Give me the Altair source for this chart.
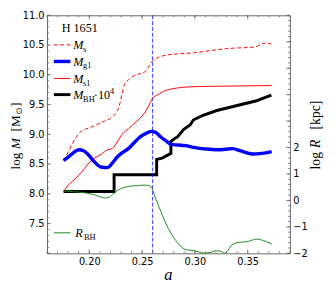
import altair as alt
import pandas as pd

# ---------------- data ----------------
a_ms = [0.1757, 0.1803, 0.1849, 0.1895, 0.1942, 0.2003, 0.2080, 0.2142, 0.2203, 0.2249, 0.2281,
        0.2311, 0.2332, 0.2373, 0.2419, 0.2480, 0.2526, 0.2572, 0.2604, 0.2665, 0.2727, 0.2985,
        0.3299, 0.3576, 0.3631, 0.3659, 0.3724]
m_ms = [8.56, 8.71, 8.87, 9.00, 9.07, 9.11, 9.17, 9.22, 9.27, 9.35, 9.46,
        9.68, 9.83, 9.92, 9.98, 10.02, 10.05, 10.16, 10.24, 10.30, 10.33, 10.37,
        10.44, 10.47, 10.52, 10.53, 10.52]

a_ms1 = [0.1757, 0.1803, 0.1865, 0.1926, 0.1988, 0.2050, 0.2111, 0.2172, 0.2219, 0.2265, 0.2311,
         0.2373, 0.2450, 0.2511, 0.2558, 0.2597, 0.2665, 0.2727, 0.2773, 0.2988, 0.3296, 0.3727]
m_ms1 = [8.04, 8.15, 8.25, 8.36, 8.50, 8.60, 8.66, 8.74, 8.76, 8.87, 9.00,
         9.10, 9.22, 9.33, 9.46, 9.60, 9.68, 9.74, 9.76, 9.80, 9.81, 9.82]

a_mg1 = [0.1757, 0.1803, 0.1849, 0.1900, 0.1950, 0.2000, 0.2052, 0.2110, 0.2172, 0.2220, 0.2265,
         0.2320, 0.2370, 0.2420, 0.2477, 0.2530, 0.2588, 0.2630, 0.2680, 0.2727, 0.2773, 0.2840,
         0.2911, 0.2990, 0.3065, 0.3140, 0.3219, 0.3290, 0.3357, 0.3435, 0.3490, 0.3542, 0.3634,
         0.3727]
m_mg1 = [8.56, 8.62, 8.69, 8.74, 8.72, 8.64, 8.53, 8.45, 8.44, 8.52, 8.62,
         8.70, 8.76, 8.85, 8.95, 9.01, 9.05, 9.03, 8.95, 8.89, 8.83, 8.82,
         8.81, 8.78, 8.76, 8.75, 8.74, 8.75, 8.76, 8.72, 8.69, 8.67, 8.68,
         8.71]

a_mbh = [0.1757, 0.2235, 0.2235, 0.2638, 0.2638, 0.2690, 0.2742, 0.2773, 0.2773, 0.2800, 0.2837,
         0.2893, 0.2957, 0.2985, 0.3077, 0.3207, 0.3391, 0.3576, 0.3724]
m_mbh = [8.04, 8.04, 8.32, 8.32, 8.58, 8.60, 8.65, 8.68, 8.88, 8.92, 8.96,
         9.08, 9.16, 9.24, 9.32, 9.40, 9.48, 9.56, 9.66]

a_rbh = [0.1757, 0.1849, 0.1942, 0.2052, 0.2110, 0.2154, 0.2200, 0.2250, 0.2300, 0.2373, 0.2450,
         0.2520, 0.2560, 0.2588, 0.2616, 0.2662, 0.2727, 0.2773, 0.2837, 0.2883, 0.2927, 0.2988,
         0.3040, 0.3080, 0.3142, 0.3204, 0.3250, 0.3280, 0.3311, 0.3342, 0.3380, 0.3419, 0.3481,
         0.3527, 0.3588, 0.3650, 0.3727]
r_rbh = [0.36, 0.33, 0.30, 0.21, 0.13, 0.09, 0.15, 0.33, 0.45, 0.53, 0.56,
         0.58, 0.56, 0.51, 0.21, -0.26, -0.88, -1.24, -1.60, -1.80, -1.87, -1.90,
         -1.95, -1.99, -1.97, -1.90, -1.93, -1.99, -1.90, -1.72, -1.62, -1.58, -1.57,
         -1.52, -1.46, -1.52, -1.64]

a_mark = [0.26]

x_labels = [0.20, 0.25, 0.30, 0.35]
yl_labels = [7.5, 8.0, 8.5, 9.0, 9.5, 10.0, 10.5, 11.0]
yr_labels = [-2, -1, 0, 1, 2]

x_major = [0.20, 0.25, 0.30, 0.35]
x_minor = [round(0.16 + 0.01 * i, 2) for i in range(24)]
yl_major = [7.0 + 0.5 * i for i in range(9)]
yl_minor = [round(7.0 + 0.1 * i, 1) for i in range(41)]
yr_major = list(range(-2, 8))
yr_minor = [round(-2 + 0.2 * i, 1) for i in range(46)]

# ---------------- layout ----------------
OX, OY = 48, 12          # page position of the plot origin
W, H = 249, 244
PAD = {"left": 40, "top": 4, "right": 38, "bottom": 30}
FRAME = "#666666"
SERIF = "Liberation Serif"
SANS = "DejaVu Sans"

XS = alt.Scale(domain=[0.16, 0.39], nice=False, zero=False)
YM = alt.Scale(domain=[7.0, 11.0], nice=False, zero=False)
YR = alt.Scale(domain=[-2.0, 7.0], nice=False, zero=False)

x_axis = alt.Axis(values=x_labels, format=".2f", ticks=False, tickSize=0, domain=False, grid=False,
                  labelFont=SANS, labelFontSize=10, labelColor="black", labelPadding=3,
                  labelFlush=False, labelOverlap=False, title=None)
yl_axis = alt.Axis(values=yl_labels, format=".1f", orient="left", ticks=False, tickSize=0, domain=False,
                   grid=False, labelFont=SANS, labelFontSize=10, labelColor="black", labelPadding=3,
                   labelFlush=False, labelOverlap=False, title=None)
yr_axis = alt.Axis(values=yr_labels, format="d", orient="right", ticks=False, tickSize=0, domain=False,
                   grid=False, labelFont=SANS, labelFontSize=10, labelColor="black", labelPadding=3,
                   labelFlush=False, labelOverlap=False, title=None)

ONE = pd.DataFrame({"k": [0]})


def X(field="a"):
    return alt.X(f"{field}:Q", scale=XS, axis=x_axis)


def series(a, v, yscale, yaxis, **mk):
    df = pd.DataFrame({"a": a, "v": v, "i": range(len(a))})
    return alt.Chart(df).mark_line(**mk).encode(
        x=X(), y=alt.Y("v:Q", scale=yscale, axis=yaxis), order="i:Q")


def txt(s, x, y, size, italic=False, angle=None, align="left", font=SERIF):
    kw = dict(text=s, fontSize=size, font=font, align=align, baseline="alphabetic", color="black")
    if italic:
        kw["fontStyle"] = "italic"
    if angle is not None:
        kw["angle"] = angle
    return alt.Chart(ONE).mark_text(**kw).encode(x=alt.value(x - OX), y=alt.value(y - OY))


def leg_line(y, color, width, dash=None):
    kw = dict(color=color, strokeWidth=width)
    if dash:
        kw["strokeDash"] = dash
    return alt.Chart(ONE).mark_rule(**kw).encode(
        x=alt.value(55 - OX), x2=alt.value(72 - OX), y=alt.value(y - OY))


def xticks(vals, length, top=False):
    df = pd.DataFrame({"a": vals})
    y0, y1 = (0, length) if top else (H, H - length)
    return alt.Chart(df).mark_rule(color=FRAME, strokeWidth=0.8).encode(
        x=X(), y=alt.value(y0), y2=alt.value(y1))


def yticks(vals, length, yscale, yaxis, right=False):
    df = pd.DataFrame({"t": vals})
    x0, x1 = (W, W - length) if right else (0, length)
    return alt.Chart(df).mark_rule(color=FRAME, strokeWidth=0.8).encode(
        y=alt.Y("t:Q", scale=yscale, axis=yaxis), x=alt.value(x0), x2=alt.value(x1))


# ---------------- mass (left axis) group ----------------
mark_df = pd.DataFrame({"a": a_mark})
vline = alt.Chart(mark_df).mark_rule(color="#0000ff", strokeWidth=0.8, strokeDash=[4, 2]).encode(x=X())

left_group = alt.layer(
    series(a_mbh, m_mbh, YM, yl_axis, color="black", strokeWidth=3),
    vline,
    series(a_ms, m_ms, YM, yl_axis, color="#ff0000", strokeWidth=1, strokeDash=[4, 2.5],
           interpolate="monotone"),
    series(a_ms1, m_ms1, YM, yl_axis, color="#ff0000", strokeWidth=1, interpolate="monotone"),
    series(a_mg1, m_mg1, YM, yl_axis, color="#0000ff", strokeWidth=3.5, interpolate="monotone"),
    xticks(x_minor, 2), xticks(x_major, 4),
    xticks(x_minor, 2, top=True), xticks(x_major, 4, top=True),
    yticks(yl_minor, 2, YM, yl_axis), yticks(yl_major, 4, YM, yl_axis),
)

# ---------------- radius (right axis) group ----------------
right_group = alt.layer(
    series(a_rbh, r_rbh, YR, yr_axis, color="#1a8a1a", strokeWidth=1, interpolate="monotone"),
    yticks(yr_minor, 2, YR, yr_axis, right=True), yticks(yr_major, 4, YR, yr_axis, right=True),
)

# ---------------- legend and titles ----------------
annot = [
    txt("H 1651", 63, 29, 12.5),
    leg_line(42.3, "#ff0000", 1, [4, 2.5]),
    txt("M", 75, 46.5, 12.5, italic=True), txt("s", 85, 49.5, 8.5),
    leg_line(59.3, "#0000ff", 3.5),
    txt("M", 75, 63.5, 12.5, italic=True), txt("g1", 85, 66.5, 8.5),
    leg_line(76.7, "#ff0000", 1),
    txt("M", 75, 81, 12.5, italic=True), txt("s1", 85, 84, 8.5),
    leg_line(93.3, "black", 3),
    txt("M", 75, 97.5, 12.5, italic=True), txt("BH", 85, 100.5, 8.5),
    txt("·10", 96, 97.5, 12.5), txt("4", 112.5, 92.5, 8.5),
    leg_line(235, "#1a8a1a", 1),
    txt("R", 77, 239.5, 12.5, italic=True), txt("BH", 86, 242.5, 8.5),
    # x title
    txt("a", 172.5, 283, 17, italic=True, align="center"),
    # left title (rotated)
    txt("log", 20, 170, 13.5, angle=270),
    txt("M", 20, 149, 13.5, italic=True, angle=270),
    txt("[M", 20, 131, 13.5, angle=270),
    txt("⊙", 22.5, 114, 8.5, angle=270, font=SANS),
    txt("]", 20, 106, 13.5, angle=270),
    # right title (rotated)
    txt("log", 328, 170, 14, angle=270),
    txt("R", 328, 148, 14, italic=True, angle=270),
    txt("[kpc]", 328, 129, 14, angle=270),
]
right_group = alt.layer(right_group, *annot)

chart = alt.layer(left_group, right_group).resolve_scale(y="independent").properties(
    width=W, height=H, padding=PAD, autosize=alt.AutoSizeParams(type="none")
).configure_view(stroke=FRAME, strokeWidth=1)

chart.save("out.html", embed_options={"renderer": "svg", "actions": False})
